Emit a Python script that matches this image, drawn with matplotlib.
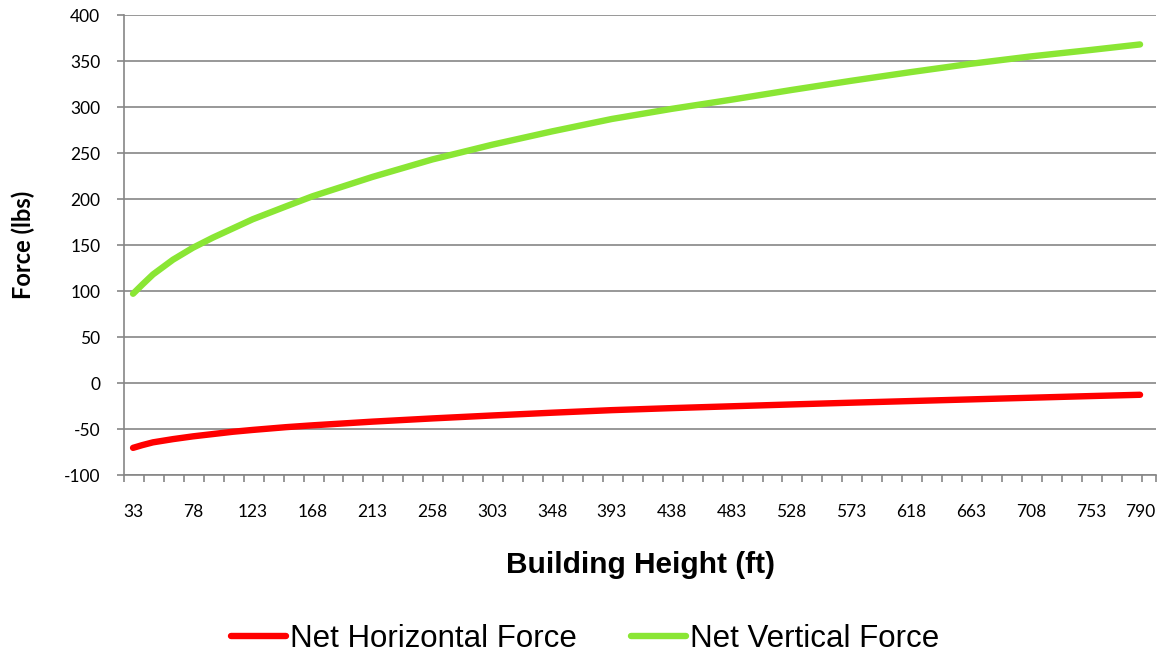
import numpy as np
import matplotlib
matplotlib.use("Agg")
from matplotlib import pyplot as plt

plt.rcParams["axes.unicode_minus"] = False

# building height (ft) and the two forces (lbs)
height = [33, 40, 48, 63, 78, 93, 108, 123, 148, 168, 213, 258, 303, 348,
          393, 438, 483, 528, 573, 618, 663, 708, 753, 790]
vertical = [97, 107, 118, 134, 147, 158, 168, 178, 192, 203, 224, 243, 259,
            273.5, 287, 298, 308, 318.5, 328.5, 338, 347, 355, 362, 368]
horizontal = [-70.5, -67.5, -64.5, -61, -58, -55.5, -53, -51, -48, -46, -42,
              -38.5, -35.3, -32.3, -29.5, -27.3, -25.3, -23.3, -21.4, -19.6,
              -17.8, -16, -14.2, -12.8]

xticks = [33, 78, 123, 168, 213, 258, 303, 348, 393, 438, 483, 528, 573,
          618, 663, 708, 753, 790]
yticks = list(range(-100, 401, 50))

gray = "#868686"

fig = plt.figure(figsize=(11.69, 6.6), dpi=100)
ax = fig.add_axes([124/1169, 1-475/660, (1156-124)/1169, 460/660])

ax.plot(height, horizontal, color="#ff0000", lw=4.6, solid_capstyle="round",
        solid_joinstyle="round", label="Net Horizontal Force")
ax.plot(height, vertical, color="#8ae634", lw=4.6, solid_capstyle="round",
        solid_joinstyle="round", label="Net Vertical Force")

ax.set_xlim(26.2, 802)
ax.set_ylim(-100, 400)
ax.set_yticks(yticks)
ax.set_xticks(xticks)
ax.set_xticks(list(np.arange(26.2, 802, 15)) + [802], minor=True)

ax.yaxis.grid(True, color=gray, lw=1.2)
ax.set_axisbelow(True)
for s in ["top", "right"]:
    ax.spines[s].set_visible(False)
for s in ["left", "bottom"]:
    ax.spines[s].set_color(gray)
    ax.spines[s].set_linewidth(1.2)

ax.tick_params(axis="y", length=5, width=1.2, color=gray, pad=12)
ax.tick_params(axis="x", which="major", length=0, pad=21)
ax.tick_params(axis="x", which="minor", length=5, width=1.2, color=gray)
for lab in ax.get_xticklabels() + ax.get_yticklabels():
    lab.set_fontfamily("Lato")
    lab.set_fontsize(12.5)
    lab.set_color("black")

fig.text(23/1169, 1-245/660, "Force (lbs)", rotation=90, ha="center",
         va="center", fontsize=17, fontweight="bold", family="Lato")
fig.text(640/1169, 1-565/660, "Building Height (ft)", ha="center",
         va="center", fontsize=21.5, fontweight="bold", family="Liberation Sans")

fig.legend(loc="center", bbox_to_anchor=(585.5/1169, 1-639/660), ncol=2,
           frameon=False, prop={"family": "Liberation Sans", "size": 22.5},
           handlelength=1.76, handletextpad=0.13, columnspacing=1.73)

fig.savefig("out.png", dpi=100)
